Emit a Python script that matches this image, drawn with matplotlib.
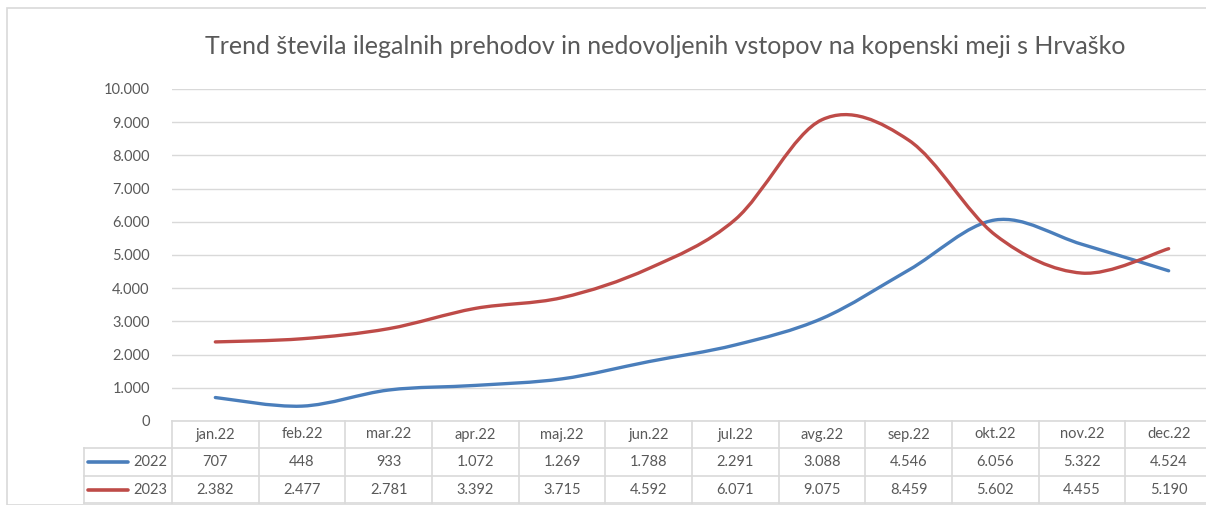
import numpy as np
import matplotlib.pyplot as plt
from matplotlib.path import Path
from matplotlib.patches import PathPatch, Rectangle

plt.rcParams['font.family'] = ['Lato', 'DejaVu Sans']

months = ['jan.22', 'feb.22', 'mar.22', 'apr.22', 'maj.22', 'jun.22',
          'jul.22', 'avg.22', 'sep.22', 'okt.22', 'nov.22', 'dec.22']
vals_2022 = [707, 448, 933, 1072, 1269, 1788, 2291, 3088, 4546, 6056, 5322, 4524]
vals_2023 = [2382, 2477, 2781, 3392, 3715, 4592, 6071, 9075, 8459, 5602, 4455, 5190]
series = [('2022', vals_2022, '#4a7ebb'), ('2023', vals_2023, '#be4b48')]

txt = '#595959'
grid = '#d9d9d9'
W, H = 1206, 505


def fmt(v):
    return f'{v:,}'.replace(',', '.')


# smooth line like Excel: bezier segments, control points from neighbours
def smooth_path(y):
    x = np.arange(len(y), dtype=float)
    y = np.asarray(y, dtype=float)
    verts = [(x[0], y[0])]
    codes = [Path.MOVETO]
    n = len(y)
    for i in range(n - 1):
        p0 = max(i - 1, 0)
        p3 = min(i + 2, n - 1)
        c1 = (x[i] + (x[i + 1] - x[p0]) / 6, y[i] + (y[i + 1] - y[p0]) / 6)
        c2 = (x[i + 1] - (x[p3] - x[i]) / 6, y[i + 1] - (y[p3] - y[i]) / 6)
        verts += [c1, c2, (x[i + 1], y[i + 1])]
        codes += [Path.CURVE4] * 3
    return Path(verts, codes)


fig = plt.figure(figsize=(W / 100, H / 100), dpi=100)

# outer chart border
fig.patches.append(Rectangle((7 / W, 0), 1.5, 1 - 8 / H, transform=fig.transFigure,
                             fill=False, edgecolor=grid, linewidth=1.2))

px_l, px_r, px_t, px_b = 172, 1212, 89, 421
ax = fig.add_axes([px_l / W, 1 - px_b / H, (px_r - px_l) / W, (px_b - px_t) / H])
ax.set_xlim(-0.5, 11.5)
ax.set_ylim(0, 10000)
ax.set_yticks(range(0, 10001, 1000))
ax.set_yticklabels([fmt(v) for v in range(0, 10001, 1000)], color=txt, fontsize=10.5)
ax.set_xticks([])
ax.tick_params(axis='y', length=0, pad=16)
for s in ax.spines.values():
    s.set_visible(False)
ax.grid(axis='y', color=grid, linewidth=1)
ax.set_axisbelow(True)
for name, vals, col in series:
    ax.add_patch(PathPatch(smooth_path(vals), fill=False, edgecolor=col,
                           linewidth=2.4, capstyle='round', joinstyle='round'))

fig.text(665 / W, 1 - 47 / H, 'Trend števila ilegalnih prehodov in nedovoljenih vstopov na kopenski meji s Hrvaško',
         ha='center', va='center', fontsize=18, color=txt)

# data table below the plot
cw = (px_r - px_l) / 12
tab_l = 84
tax = fig.add_axes([tab_l / W, 0, (px_r - tab_l) / W, 1 - px_b / H])
tax.set_xlim(-0.5 - (px_l - tab_l) / cw, 11.5)
tax.set_ylim(H - px_b, 0)
tax.axis('off')
rows = [0, 27, 55, 82]
lw = 1.2
# horizontal lines
tax.plot([-0.5, 11.5], [rows[0], rows[0]], color=grid, lw=lw, clip_on=False)
for r in rows[1:]:
    tax.plot([tax.get_xlim()[0], 11.5], [r, r], color=grid, lw=lw, clip_on=False)
# vertical lines
for i in range(13):
    tax.plot([i - 0.5, i - 0.5], [rows[0], rows[3]], color=grid, lw=lw, clip_on=False)
tax.plot([tax.get_xlim()[0]] * 2, [rows[1], rows[3]], color=grid, lw=lw, clip_on=False)

for i, m in enumerate(months):
    tax.text(i, (rows[0] + rows[1]) / 2, m, ha='center', va='center', fontsize=10.5, color=txt)
for k, (name, vals, col) in enumerate(series):
    yc = (rows[k + 1] + rows[k + 2]) / 2
    for i, v in enumerate(vals):
        tax.text(i, yc, fmt(v), ha='center', va='center', fontsize=10.5, color=txt)
    x0 = tax.get_xlim()[0] + 4 / cw
    tax.plot([x0, x0 + 40 / cw], [yc, yc], color=col, lw=2.6, solid_capstyle='round')
    tax.text(-0.5 - 5 / cw, yc, name, ha='right', va='center', fontsize=10.5, color=txt)

fig.savefig('out.png', dpi=100)
